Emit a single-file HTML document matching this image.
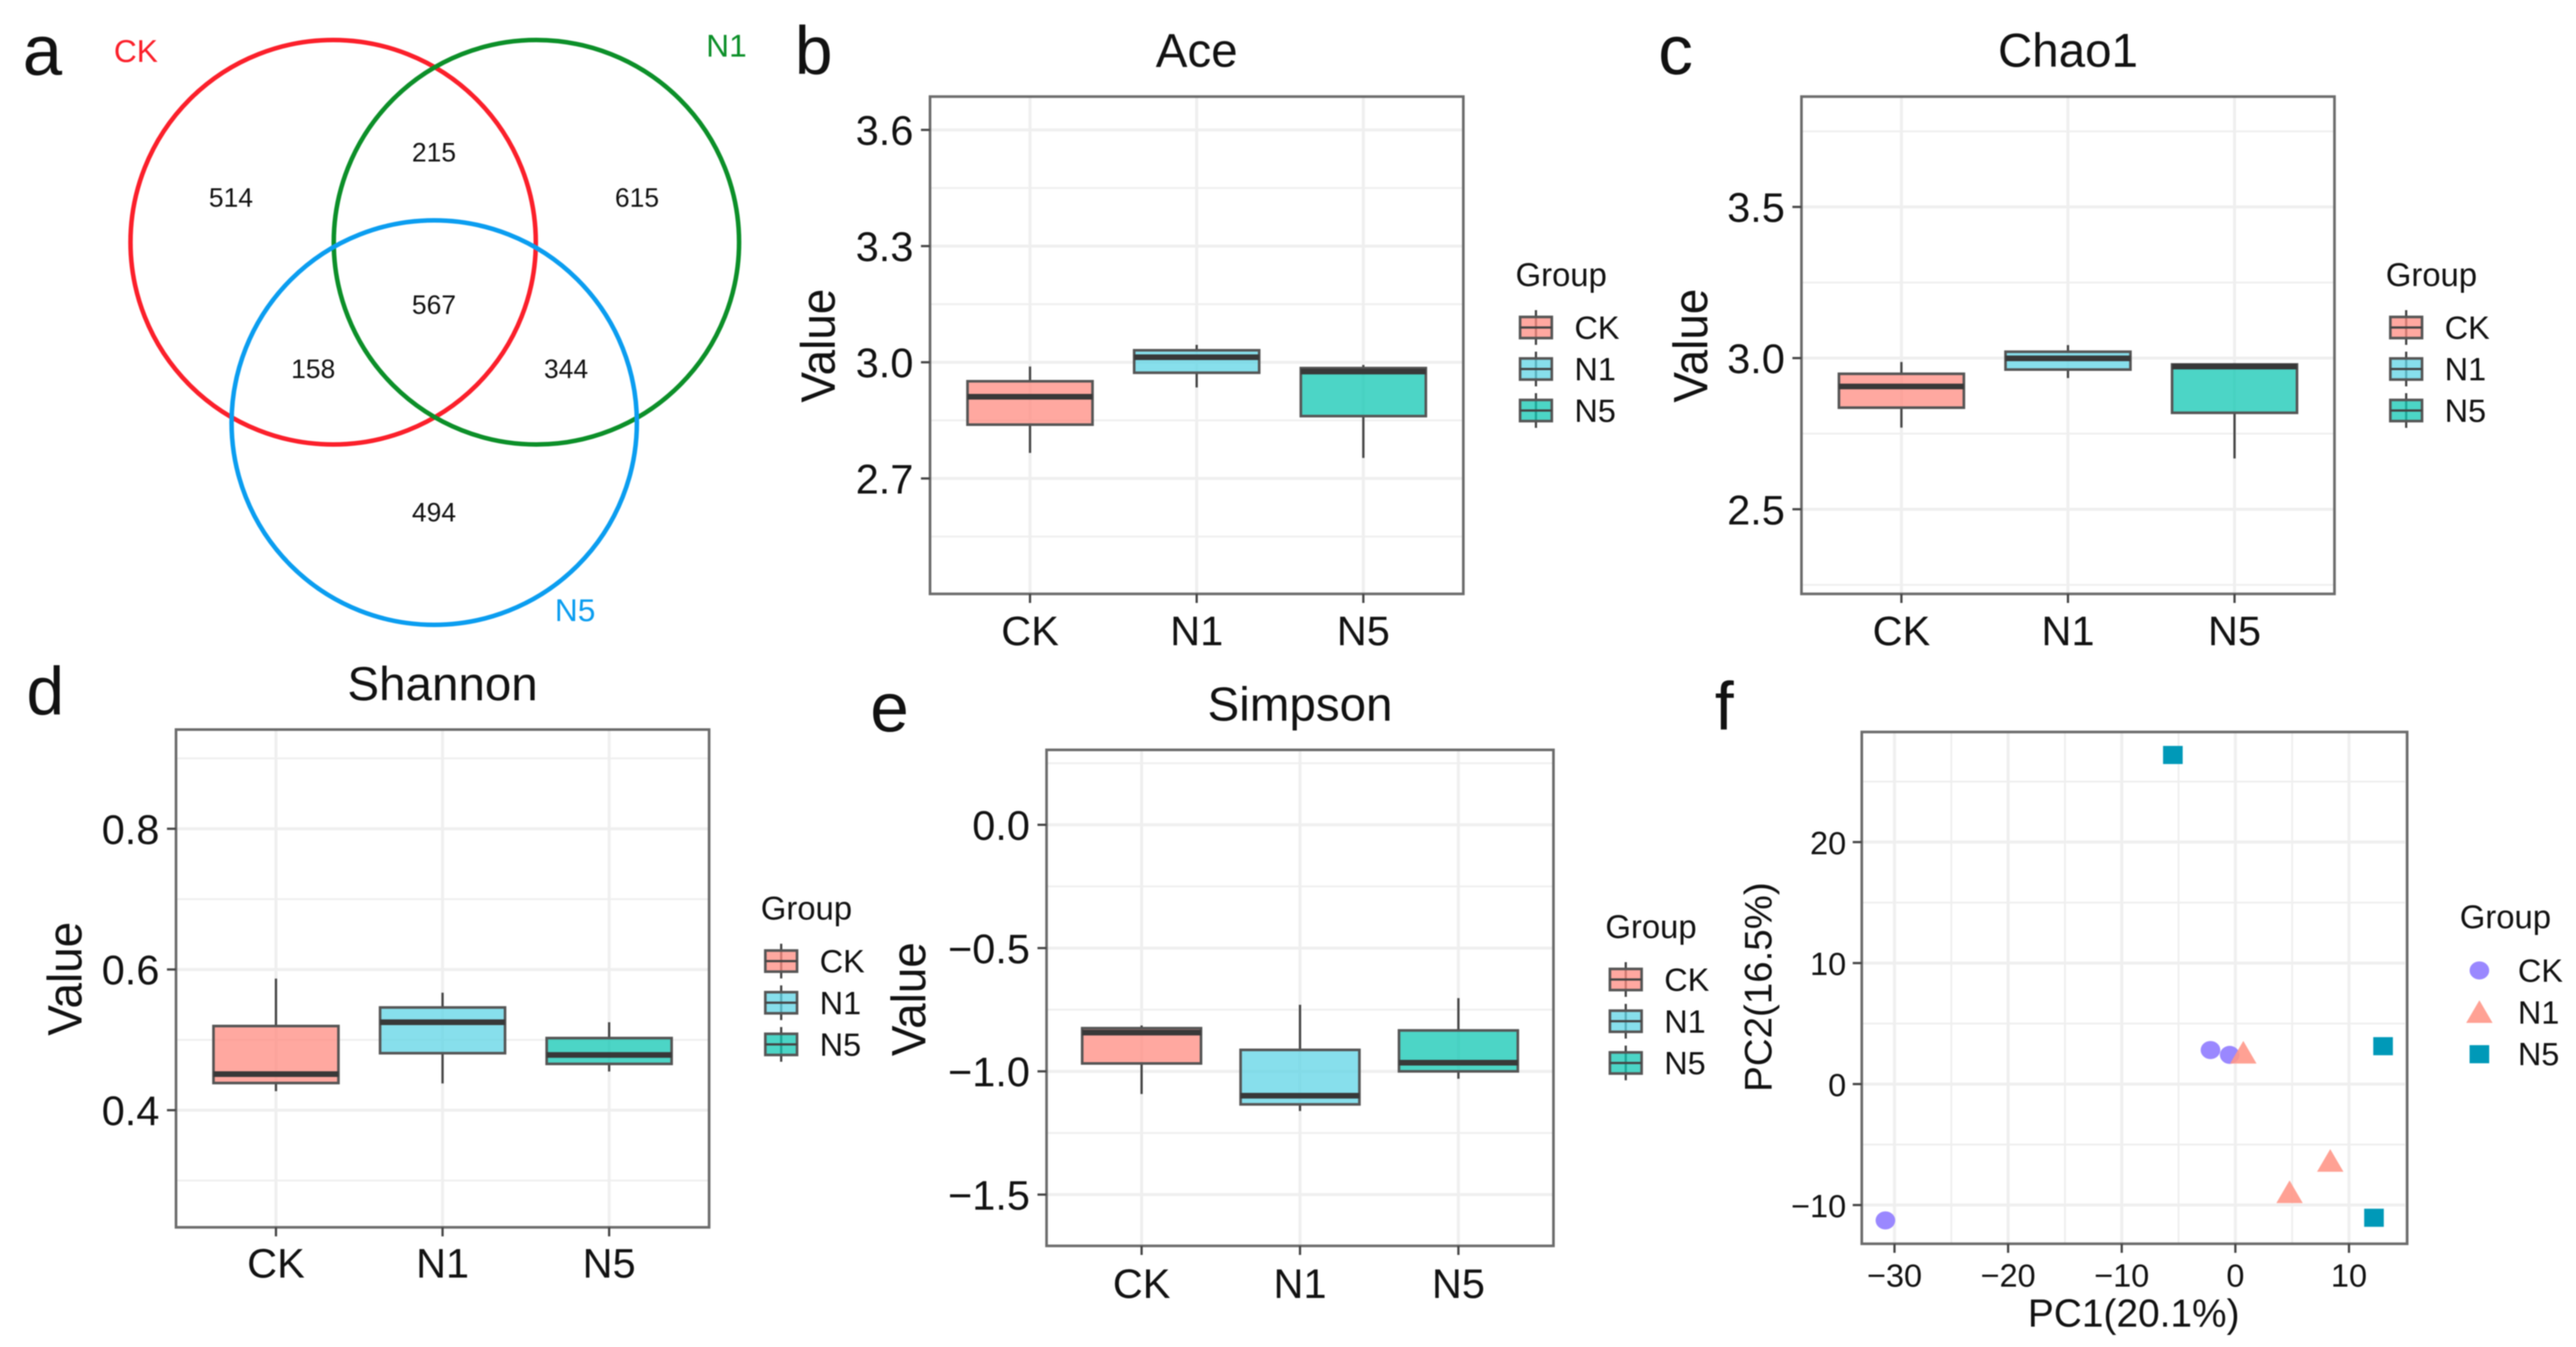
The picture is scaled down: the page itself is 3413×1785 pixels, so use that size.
<!DOCTYPE html>
<html lang="en">
<head>
<meta charset="utf-8">
<title>Microbial diversity panels</title>
<style>
html,body{margin:0;padding:0;background:#fff;}
svg{display:block;filter:blur(0.9px);}
text{font-family:"Liberation Sans",Arial,sans-serif;fill:#111;}
</style>
</head>
<body>
<svg id="figure" xmlns="http://www.w3.org/2000/svg" width="3413" height="1785" viewBox="0 0 3413 1785">
  <rect x="0" y="0" width="3413" height="1785" fill="#fff"/>
  <g>
    <text x="30" y="99" font-size="94" fill="#000">a</text>
    <ellipse cx="441.4" cy="321" rx="268.5" ry="268" fill="none" stroke="#fb1f2a" stroke-width="6"/>
    <ellipse cx="710.7" cy="321" rx="268.5" ry="268" fill="none" stroke="#0b8f28" stroke-width="6"/>
    <ellipse cx="575.3" cy="560" rx="268.5" ry="268" fill="none" stroke="#0a9df0" stroke-width="6"/>
    <text x="180" y="82" font-size="42" text-anchor="middle" style="fill:#fb1f2a">CK</text>
    <text x="962.5" y="75" font-size="42" text-anchor="middle" style="fill:#0b8f28">N1</text>
    <text x="762" y="823" font-size="42" text-anchor="middle" style="fill:#0a9df0">N5</text>
    <g font-size="35" text-anchor="middle">
      <text x="575" y="214">215</text>
      <text x="306" y="274">514</text>
      <text x="844" y="274">615</text>
      <text x="575" y="416">567</text>
      <text x="415" y="501">158</text>
      <text x="750" y="501">344</text>
      <text x="575" y="691">494</text>
    </g>
  </g>
  <text x="1053" y="98" font-size="90" fill="#000">b</text>
  <text x="2197" y="98" font-size="92" fill="#000">c</text>
  <text x="35" y="947" font-size="90" fill="#000">d</text>
  <text x="1153" y="969" font-size="92" fill="#000">e</text>
  <text x="2272" y="967" font-size="90" fill="#000">f</text>
</svg>
<script>
const categories = ['CK', 'N1', 'N5'];

const aceLow = [2.766, 2.935, 2.753];
const aceQ1 = [2.839, 2.973, 2.861];
const aceMedian = [2.911, 3.013, 2.976];
const aceQ3 = [2.951, 3.031, 2.985];
const aceHigh = [2.989, 3.045, 2.993];
const aceTicks = [2.7, 3.0, 3.3, 3.6];
const aceTickLabels = ['2.7', '3.0', '3.3', '3.6'];
const aceMinorTicks = [2.55, 2.85, 3.15, 3.45];

const chaoLow = [2.770, 2.934, 2.668];
const chaoQ1 = [2.836, 2.962, 2.819];
const chaoMedian = [2.906, 2.999, 2.972];
const chaoQ3 = [2.948, 3.021, 2.979];
const chaoHigh = [2.987, 3.043, 2.983];
const chaoTicks = [2.5, 3.0, 3.5];
const chaoTickLabels = ['2.5', '3.0', '3.5'];
const chaoMinorTicks = [2.25, 2.75, 3.25, 3.75];

const shannonLow = [0.427, 0.438, 0.455];
const shannonQ1 = [0.4386, 0.481, 0.4658];
const shannonMedian = [0.4513, 0.525, 0.4785];
const shannonQ3 = [0.5196, 0.546, 0.5025];
const shannonHigh = [0.587, 0.567, 0.525];
const shannonTicks = [0.4, 0.6, 0.8];
const shannonTickLabels = ['0.4', '0.6', '0.8'];
const shannonMinorTicks = [0.3, 0.5, 0.7, 0.9];

const simpsonLow = [-1.092, -1.161, -1.03];
const simpsonQ1 = [-0.968, -1.134, -1.0];
const simpsonMedian = [-0.843, -1.099, -0.965];
const simpsonQ3 = [-0.825, -0.913, -0.834];
const simpsonHigh = [-0.814, -0.73, -0.703];
const simpsonTicks = [-1.5, -1.0, -0.5, 0];
const simpsonTickLabels = ['\u22121.5', '\u22121.0', '\u22120.5', '0.0'];
const simpsonMinorTicks = [-1.25, -0.75, -0.25, 0.25];

const ckPc1 = [-2.19, -0.5, -30.8];
const ckPc2 = [2.81, 2.41, -11.27];
const n1Pc1 = [0.7, 8.35, 4.77];
const n1Pc2 = [2.6, -6.34, -8.93];
const n5Pc1 = [-5.5, 13.0, 12.2];
const n5Pc2 = [27.2, 3.13, -11.05];
const pcaXTicks = [-30, -20, -10, 0, 10];
const pcaXTickLabels = ['\u221230', '\u221220', '\u221210', '0', '10'];
const pcaXMinorTicks = [-25, -15, -5, 5, 15];
const pcaYTicks = [-10, 0, 10, 20];
const pcaYTickLabels = ['\u221210', '0', '10', '20'];
const pcaYMinorTicks = [-5, 5, 15, 25];

const boxFills = ['#ff8b80', '#5fd4e6', '#10c7b3'];
const GRID = '#efefef';
const EDGE = '#6b6b6b';
const svg = document.getElementById('figure');
const NS = 'http://www.w3.org/2000/svg';

function make(tag, attrs, parent) {
  const el = document.createElementNS(NS, tag);
  for (const k in attrs) el.setAttribute(k, attrs[k]);
  parent.appendChild(el);
  return el;
}
function linear(d0, d1, r0, r1) {
  return function (v) { return r0 + (v - d0) * (r1 - r0) / (d1 - d0); };
}
function addText(parent, str, x, y, size, anchor, name, lengthScale) {
  const el = make('text', { x: x, y: y, 'font-size': size, 'text-anchor': anchor }, parent);
  if (lengthScale) el.setAttribute('transform', 'translate(' + x + ' ' + y + ') rotate(-90) scale(' + lengthScale + ' 1) translate(' + (-x) + ' ' + (-y) + ')');
  el.textContent = str;
  
  
  return el;
}
function addLine(parent, x1, y1, x2, y2, color, width, name) {
  const el = make('line', { x1: x1, y1: y1, x2: x2, y2: y2, stroke: color, 'stroke-width': width }, parent);
  
  
  return el;
}
function addFrame(parent, L) {
  const el = make('rect', { x: L.left, y: L.top, width: L.right - L.left, height: L.bottom - L.top, fill: 'none', stroke: EDGE, 'stroke-width': 3.5 }, parent);
  
  
}

function drawBoxPanel(id, title, low, q1, median, q3, high, ticks, tickLabels, minorTicks, L) {
  const g = make('g', {}, svg);
  
  
  const y = linear(L.yMin, L.yMax, L.bottom, L.top);
  const x = linear(0.4, 3.6, L.left, L.right);
  const bw = x(1.375) - x(1);

  minorTicks.forEach(function (t) {
    addLine(g, L.left, y(t), L.right, y(t), GRID, 2.5, id + '-minor-gridline');
  });
  ticks.forEach(function (t) {
    addLine(g, L.left, y(t), L.right, y(t), GRID, 4, id + '-major-gridline');
  });
  categories.forEach(function (c, i) {
    addLine(g, x(i + 1), L.top, x(i + 1), L.bottom, GRID, 4, id + '-vertical-gridline');
  });

  categories.forEach(function (c, i) {
    const cx = x(i + 1);
    addLine(g, cx, y(high[i]), cx, y(q3[i]), '#444', 3, id + '-whisker-high-' + c.toLowerCase());
    addLine(g, cx, y(q1[i]), cx, y(low[i]), '#444', 3, id + '-whisker-low-' + c.toLowerCase());
    const box = make('rect', {
      x: cx - bw, y: y(q3[i]), width: 2 * bw, height: y(q1[i]) - y(q3[i]),
      fill: boxFills[i], 'fill-opacity': 0.75, stroke: '#555', 'stroke-width': 3.5
    }, g);
    
    
    addLine(g, cx - bw, y(median[i]), cx + bw, y(median[i]), '#383838', 7.5, id + '-median-' + c.toLowerCase());
  });
  addFrame(g, L);

  ticks.forEach(function (t, i) {
    addLine(g, L.left - 12, y(t), L.left, y(t), '#444', 3, id + '-y-tick');
    addText(g, tickLabels[i], L.left - 22, y(t) + 20, 55, 'end', id + '-y-tick-label');
  });
  categories.forEach(function (c, i) {
    addLine(g, x(i + 1), L.bottom, x(i + 1), L.bottom + 12, '#444', 3, id + '-x-tick');
    addText(g, c, x(i + 1), L.xLabelY, 55, 'middle', id + '-x-tick-label');
  });
  addText(g, title, (L.left + L.right) / 2, L.titleY, 63, 'middle', id + '-title');
  addText(g, 'Value', L.valueX, L.valueY, 64, 'middle', id + '-y-axis-title', 0.95);

  addText(g, 'Group', L.legX - 27, L.legY - 55, 43.5, 'start', id + '-legend-title');
  categories.forEach(function (c, i) {
    const ky = L.legY + i * L.legStep;
    addLine(g, L.legX, ky - 23, L.legX, ky + 23, '#444', 3, id + '-legend-whisker');
    const key = make('rect', { x: L.legX - 21, y: ky - 14, width: 42, height: 28, fill: boxFills[i], 'fill-opacity': 0.75, stroke: '#555', 'stroke-width': 3.5 }, g);
    
    
    addLine(g, L.legX - 21, ky, L.legX + 21, ky, '#444', 3, id + '-legend-median');
    addText(g, c, L.legX + 51, ky + 15, 43, 'start', id + '-legend-label');
  });
}

drawBoxPanel('ace', 'Ace', aceLow, aceQ1, aceMedian, aceQ3, aceHigh, aceTicks, aceTickLabels, aceMinorTicks,
  { left: 1232.2, right: 1938.8, top: 128, bottom: 787, yMin: 2.402, yMax: 3.686, xLabelY: 855, titleY: 88.7, valueX: 1106, valueY: 458, legX: 2035, legY: 434, legStep: 55 });
drawBoxPanel('chao1', 'Chao1', chaoLow, chaoQ1, chaoMedian, chaoQ3, chaoHigh, chaoTicks, chaoTickLabels, chaoMinorTicks,
  { left: 2386.8, right: 3093, top: 128, bottom: 787, yMin: 2.220, yMax: 3.865, xLabelY: 855, titleY: 88.7, valueX: 2262, valueY: 458, legX: 3188, legY: 434, legStep: 55 });
drawBoxPanel('shannon', 'Shannon', shannonLow, shannonQ1, shannonMedian, shannonQ3, shannonHigh, shannonTicks, shannonTickLabels, shannonMinorTicks,
  { left: 233.2, right: 939.5, top: 966.8, bottom: 1626.4, yMin: 0.2335, yMax: 0.941, xLabelY: 1693, titleY: 928, valueX: 108, valueY: 1297, legX: 1035, legY: 1273.6, legStep: 55.2 });
drawBoxPanel('simpson', 'Simpson', simpsonLow, simpsonQ1, simpsonMedian, simpsonQ3, simpsonHigh, simpsonTicks, simpsonTickLabels, simpsonMinorTicks,
  { left: 1386.6, right: 2058.2, top: 993.7, bottom: 1651, yMin: -1.708, yMax: 0.304, xLabelY: 1720, titleY: 955, valueX: 1226, valueY: 1324, legX: 2154, legY: 1298, legStep: 55.3 });

const pcaFrame = { left: 2466.7, right: 3189.3, top: 970, bottom: 1648.2 };
const pcaG = make('g', {}, svg);


const px = linear(-32.88, 15.12, pcaFrame.left, pcaFrame.right);
const py = linear(-13.2, 29.1, pcaFrame.bottom, pcaFrame.top);

pcaXMinorTicks.forEach(function (t) {
  addLine(pcaG, px(t), pcaFrame.top, px(t), pcaFrame.bottom, GRID, 2.5, 'pca-x-minor-gridline');
});
pcaYMinorTicks.forEach(function (t) {
  addLine(pcaG, pcaFrame.left, py(t), pcaFrame.right, py(t), GRID, 2.5, 'pca-y-minor-gridline');
});
pcaXTicks.forEach(function (t) {
  addLine(pcaG, px(t), pcaFrame.top, px(t), pcaFrame.bottom, GRID, 4, 'pca-x-major-gridline');
});
pcaYTicks.forEach(function (t) {
  addLine(pcaG, pcaFrame.left, py(t), pcaFrame.right, py(t), GRID, 4, 'pca-y-major-gridline');
});

function circleMark(parent, cx, cy, name) {
  const el = make('ellipse', { cx: cx, cy: cy, rx: 13, ry: 12, fill: '#8f7bff', 'fill-opacity': 0.9 }, parent);
  
  
}
function triangleMark(parent, cx, cy, name) {
  const pts = (cx - 17.5) + ',' + (cy + 14.5) + ' ' + (cx + 17.5) + ',' + (cy + 14.5) + ' ' + cx + ',' + (cy - 15.5);
  const el = make('polygon', { points: pts, fill: '#ff9788', 'fill-opacity': 0.9 }, parent);
  
  
}
function squareMark(parent, cx, cy, name) {
  const el = make('rect', { x: cx - 13, y: cy - 12, width: 26, height: 24, fill: '#0099b8' }, parent);
  
  
}
ckPc1.forEach(function (v, i) { circleMark(pcaG, px(v), py(ckPc2[i]), 'pca-point-ck'); });
n1Pc1.forEach(function (v, i) { triangleMark(pcaG, px(v), py(n1Pc2[i]), 'pca-point-n1'); });
n5Pc1.forEach(function (v, i) { squareMark(pcaG, px(v), py(n5Pc2[i]), 'pca-point-n5'); });

addFrame(pcaG, pcaFrame);
pcaXTicks.forEach(function (t, i) {
  addLine(pcaG, px(t), pcaFrame.bottom, px(t), pcaFrame.bottom + 12, '#444', 3, 'pca-x-tick');
  addText(pcaG, pcaXTickLabels[i], px(t), 1705, 43, 'middle', 'pca-x-tick-label');
});
pcaYTicks.forEach(function (t, i) {
  addLine(pcaG, pcaFrame.left - 12, py(t), pcaFrame.left, py(t), '#444', 3, 'pca-y-tick');
  addText(pcaG, pcaYTickLabels[i], 2446, py(t) + 16, 43, 'end', 'pca-y-tick-label');
});
addText(pcaG, 'PC1(20.1%)', 2827, 1758, 51.5, 'middle', 'pca-x-axis-title');
addText(pcaG, 'PC2(16.5%)', 2347, 1308, 51, 'middle', 'pca-y-axis-title', 1);
addText(pcaG, 'Group', 3259, 1230, 43.5, 'start', 'pca-legend-title');
circleMark(pcaG, 3285, 1286, 'pca-legend-key-ck');
triangleMark(pcaG, 3285, 1341, 'pca-legend-key-n1');
squareMark(pcaG, 3285, 1397, 'pca-legend-key-n5');
categories.forEach(function (c, i) {
  addText(pcaG, c, 3336, 1301 + i * 55.3, 43, 'start', 'pca-legend-label');
});
</script>
</body>
</html>
